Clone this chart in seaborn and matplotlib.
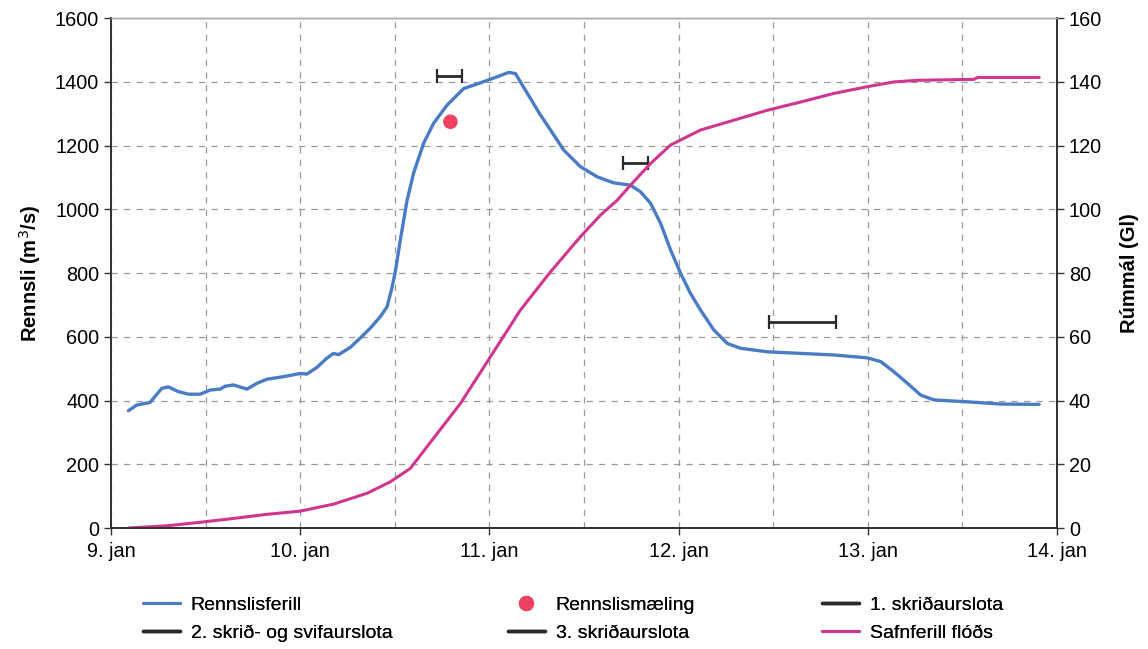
import numpy as np
import pandas as pd
import matplotlib
matplotlib.use("Agg")
import matplotlib.pyplot as plt
from matplotlib.lines import Line2D
from matplotlib.ticker import MultipleLocator
import seaborn as sns

# --- Data (days after 9. jan 00:00) ---
flow_days = [0.092, 0.136, 0.206, 0.268, 0.303, 0.356, 0.409, 0.471, 0.524, 0.577,
             0.603, 0.647, 0.718, 0.771, 0.824, 0.912, 1.000, 1.035, 1.088, 1.141,
             1.176, 1.203, 1.265, 1.317, 1.370, 1.423, 1.459, 1.485, 1.503, 1.520,
             1.529, 1.565, 1.599, 1.652, 1.705, 1.776, 1.864, 1.952, 2.041, 2.102,
             2.138, 2.164, 2.217, 2.270, 2.323, 2.393, 2.481, 2.570, 2.658, 2.746,
             2.799, 2.852, 2.905, 2.958, 3.011, 3.063, 3.116, 3.187, 3.258, 3.328,
             3.469, 3.646, 3.822, 3.998, 4.069, 4.139, 4.210, 4.280, 4.351, 4.528,
             4.704, 4.906]
flow_m3s = [368, 386, 394, 438, 443, 428, 420, 420, 433, 436,
            445, 449, 436, 454, 467, 475, 485, 483, 504, 533,
            548, 544, 567, 596, 627, 663, 694, 754, 806, 869,
            903, 1029, 1113, 1207, 1270, 1327, 1379, 1397, 1416, 1430,
            1426, 1400, 1348, 1296, 1249, 1186, 1134, 1102, 1083, 1076,
            1055, 1019, 956, 872, 799, 736, 684, 621, 579, 564,
            553, 548, 543, 534, 522, 490, 454, 417, 402, 396,
            389, 388]

vol_days = [0.092, 0.295, 0.471, 0.647, 0.824, 1.000, 1.176, 1.353, 1.476, 1.582,
            1.670, 1.847, 2.005, 2.164, 2.323, 2.481, 2.587, 2.676, 2.746, 2.852,
            2.958, 3.116, 3.293, 3.469, 3.646, 3.822, 3.998, 4.139, 4.263, 4.562,
            4.580, 4.906]
vol_gl = [0.0, 0.7, 1.8, 3.0, 4.3, 5.3, 7.5, 10.9, 14.5, 18.7,
          25.5, 39.1, 53.7, 68.4, 80.4, 91.4, 98.2, 102.9, 107.6, 114.4,
          120.2, 124.9, 128.0, 131.1, 133.7, 136.4, 138.5, 140.0, 140.5, 140.8,
          141.4, 141.4]

meas_day = [1.794]
meas_flow = [1275]

sed_labels = ["1. skriðaurslota", "2. skrið- og svifaurslota", "3. skriðaurslota"]
sed_start = [1.725, 2.704, 3.478]
sed_end = [1.857, 2.836, 3.831]
sed_flow = [1420, 1145, 645]

day_ticks = [9, 10, 11, 12, 13, 14]
day_labels = ["9. jan", "10. jan", "11. jan", "12. jan", "13. jan", "14. jan"]

blue = "#4a7cc6"
pink = "#d0368f"
red = "#ee4060"
dark = "#2a2a2a"

sns.set_style("white")
plt.rcParams["font.family"] = ["Liberation Sans", "DejaVu Sans"]
plt.rcParams["text.color"] = "black"

df_flow = pd.DataFrame({"day": np.array(flow_days) + 9, "flow": flow_m3s})
df_vol = pd.DataFrame({"day": np.array(vol_days) + 9, "vol": vol_gl})

fig = plt.figure(figsize=(11.48, 6.49), dpi=100)
ax = fig.add_axes([0.0967, 0.1864, 0.824, 0.7856])
ax2 = ax.twinx()

sns.lineplot(data=df_flow, x="day", y="flow", ax=ax, color=blue, linewidth=2.4)
sns.scatterplot(x=np.array(meas_day) + 9, y=meas_flow, ax=ax, color=red, s=110,
                edgecolor="none", zorder=5)
for s, e, f in zip(sed_start, sed_end, sed_flow):
    c = (s + e) / 2 + 9
    ax.errorbar(c, f, xerr=(e - s) / 2, color=dark, linewidth=2, capsize=5,
                capthick=1.6, zorder=4)

sns.lineplot(data=df_vol, x="day", y="vol", ax=ax2, color=pink, linewidth=2.2)

ax.set_xlim(9, 14)
ax.set_ylim(0, 1600)
ax2.set_ylim(0, 160)
ax.set_xticks(day_ticks)
ax.set_xticklabels(day_labels)
ax.xaxis.set_minor_locator(MultipleLocator(0.5))
ax.yaxis.set_major_locator(MultipleLocator(200))
ax2.yaxis.set_major_locator(MultipleLocator(20))

ax.grid(which="both", axis="x", color="#999999", linestyle=(0, (5, 5)), linewidth=0.9)
ax.grid(which="major", axis="y", color="#999999", linestyle=(0, (5, 5)), linewidth=0.9)
ax.tick_params(axis="x", which="minor", length=0)
ax.tick_params(axis="both", which="major", direction="out", length=5, width=1,
               color="#333333", labelcolor="black", labelsize=14.3, left=True, bottom=True)
ax.tick_params(axis="x", pad=5)
ax2.tick_params(axis="y", direction="out", length=5, width=1, color="#333333",
                labelcolor="black", labelsize=14.3, right=True)

for a in (ax, ax2):
    for side in ("left", "right", "bottom"):
        a.spines[side].set_color("#333333")
        a.spines[side].set_linewidth(1.3)
    a.spines["top"].set_color("#aaaaaa")
    a.spines["top"].set_linewidth(1.0)

ax.set_xlabel("")
ax.set_ylabel("Rennsli (m$^3$/s)", fontsize=14.5, fontweight="bold", color="black")
ax.yaxis.set_label_coords(-0.072, 0.5)
ax2.set_ylabel("Rúmmál (Gl)", fontsize=14.5, fontweight="bold", color="black")
ax2.yaxis.set_label_coords(1.067, 0.5)

# legend: three columns placed where the reference has them
h = {
    "Rennslisferill": Line2D([], [], color=blue, linewidth=2.2),
    "Rennslismæling": Line2D([], [], color=red, marker="o", linestyle="none", markersize=10),
    sed_labels[0]: Line2D([], [], color=dark, linewidth=2.5),
    sed_labels[1]: Line2D([], [], color=dark, linewidth=2.5),
    sed_labels[2]: Line2D([], [], color=dark, linewidth=2.5),
    "Safnferill flóðs": Line2D([], [], color=pink, linewidth=2.2),
}
columns = [(143, ["Rennslisferill", sed_labels[1]]),
           (508, ["Rennslismæling", sed_labels[2]]),
           (822, [sed_labels[0], "Safnferill flóðs"])]
for x0, keys in columns:
    leg = fig.legend([h[k] for k in keys], keys, loc="upper left",
                     bbox_to_anchor=(x0 / 1148, 1 - 596 / 649), frameon=False,
                     fontsize=14, handlelength=1.9, handletextpad=0.55,
                     labelspacing=0.55, borderpad=0, borderaxespad=0)
    fig.add_artist(leg)

fig.savefig("out.png", dpi=100)
